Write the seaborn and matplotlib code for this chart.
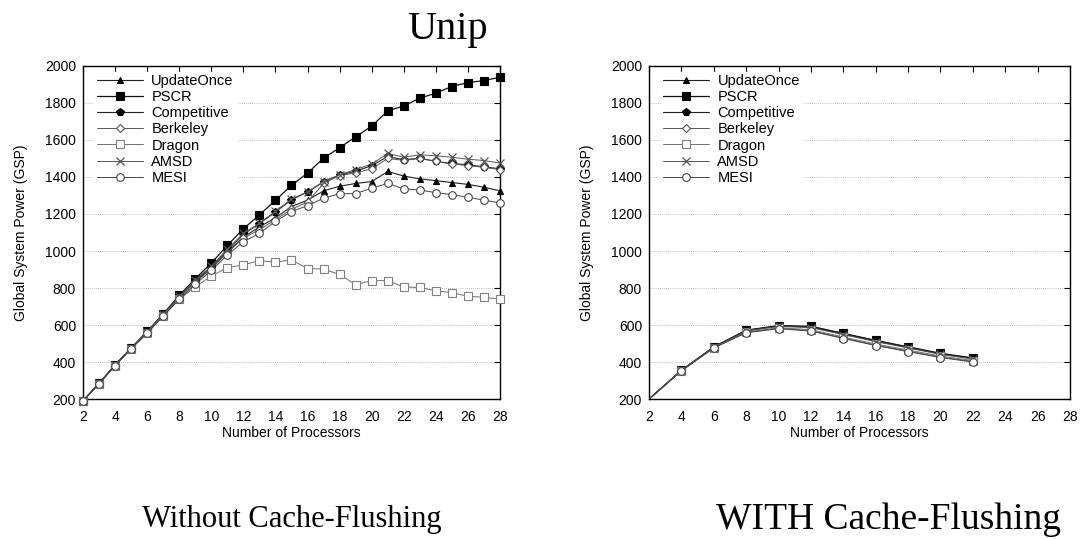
import matplotlib
matplotlib.use("Agg")
import matplotlib.pyplot as plt
import seaborn as sns
import pandas as pd

# ---------------- data ----------------
x_left = list(range(2, 29))
update_once_l = [190, 285, 383, 475, 563, 658, 752, 838, 905, 995, 1075, 1130, 1180, 1240, 1275, 1325, 1350, 1365, 1375, 1430, 1405, 1390, 1380, 1370, 1360, 1345, 1325]
pscr_l = [190, 285, 385, 475, 565, 660, 760, 850, 935, 1030, 1120, 1195, 1274, 1355, 1421, 1502, 1558, 1617, 1675, 1757, 1784, 1826, 1853, 1889, 1910, 1921, 1939]
competitive_l = [190, 285, 383, 475, 563, 658, 755, 840, 915, 1005, 1090, 1148, 1211, 1277, 1319, 1373, 1410, 1432, 1461, 1511, 1493, 1502, 1484, 1473, 1466, 1455, 1444]
berkeley_l = [190, 283, 380, 472, 558, 652, 745, 830, 905, 990, 1070, 1115, 1170, 1225, 1265, 1365, 1408, 1422, 1445, 1500, 1490, 1500, 1485, 1470, 1462, 1452, 1440]
dragon_l = [190, 283, 380, 472, 558, 650, 740, 805, 865, 910, 925, 948, 940, 952, 905, 903, 873, 818, 840, 840, 805, 803, 785, 775, 755, 750, 740]
amsd_l = [190, 285, 383, 475, 563, 658, 755, 842, 918, 1010, 1095, 1150, 1215, 1280, 1320, 1375, 1412, 1440, 1470, 1527, 1507, 1520, 1514, 1507, 1496, 1489, 1475]
mesi_l = [190, 283, 380, 472, 555, 648, 738, 820, 895, 978, 1050, 1095, 1160, 1213, 1245, 1285, 1310, 1310, 1340, 1365, 1335, 1330, 1315, 1305, 1290, 1275, 1260]

x_right = list(range(2, 23, 2))
update_once_r = [200, 355, 480, 570, 595, 590, 553, 515, 480, 445, 420]
pscr_r = [200, 355, 482, 572, 597, 593, 555, 517, 482, 447, 422]
competitive_r = [200, 355, 480, 570, 594, 590, 552, 514, 479, 444, 420]
berkeley_r = [200, 353, 477, 560, 583, 570, 530, 492, 460, 427, 403]
dragon_r = [200, 353, 477, 562, 585, 575, 535, 497, 465, 432, 408]
amsd_r = [200, 355, 480, 568, 592, 586, 548, 510, 476, 441, 416]
mesi_r = [200, 352, 476, 558, 580, 567, 527, 489, 456, 424, 400]

series_names = ["UpdateOnce", "PSCR", "Competitive", "Berkeley", "Dragon", "AMSD", "MESI"]
left_values = [update_once_l, pscr_l, competitive_l, berkeley_l, dragon_l, amsd_l, mesi_l]
right_values = [update_once_r, pscr_r, competitive_r, berkeley_r, dragon_r, amsd_r, mesi_r]

x_ticks = list(range(2, 29, 2))
y_ticks = list(range(200, 2001, 200))

title_text = "Unip"
caption_left = "Without Cache-Flushing"
caption_right = "WITH Cache-Flushing"
xlabel_text = "Number of Processors"
ylabel_text = "Global System Power (GSP)"

# ---------------- style ----------------
sns.set_theme(style="white")
plt.rcParams["font.family"] = ["Liberation Sans", "DejaVu Sans"]
plt.rcParams["text.color"] = "black"
plt.rcParams["axes.labelcolor"] = "black"
plt.rcParams["xtick.color"] = "black"
plt.rcParams["ytick.color"] = "black"

styles = {
    "UpdateOnce":  dict(marker="^", ms=5.0, mfc="black", mec="black", color="#222222", lw=0.8),
    "PSCR":        dict(marker="s", ms=6.0, mfc="black", mec="black", color="#111111", lw=0.9),
    "Competitive": dict(marker="p", ms=5.5, mfc="black", mec="black", color="#222222", lw=0.8),
    "Berkeley":    dict(marker="D", ms=4.0, mfc="white", mec="#555555", color="#555555", lw=0.7),
    "Dragon":      dict(marker="s", ms=5.5, mfc="white", mec="#808080", color="#707070", lw=0.7),
    "AMSD":        dict(marker="x", ms=5.5, mfc="none", mec="#555555", color="#555555", lw=0.7, mew=0.9),
    "MESI":        dict(marker="o", ms=5.5, mfc="white", mec="#444444", color="#444444", lw=0.7),
}

fig = plt.figure(figsize=(10.81, 5.39), dpi=100)
ax_l = fig.add_axes([0.0768, 0.2597, 0.3857, 0.6179])
ax_r = fig.add_axes([0.6004, 0.2597, 0.3894, 0.6179])


def draw(ax, xs, values, clip_first):
    for name, vals in zip(series_names, values):
        df = pd.DataFrame({"x": xs, "y": vals})
        st = dict(styles[name])
        kw = dict(marker=st["marker"], markersize=st["ms"], markerfacecolor=st["mfc"],
                  markeredgecolor=st["mec"], color=st["color"], linewidth=st["lw"],
                  markeredgewidth=st.get("mew", 0.8), label=name)
        if clip_first:
            kw["markevery"] = slice(1, None)
        sns.lineplot(data=df, x="x", y="y", ax=ax, legend=False, clip_on=clip_first, zorder=3, **kw)
    ax.set_xlim(2, 28)
    ax.set_ylim(200, 2000)
    ax.set_xticks(x_ticks)
    ax.set_yticks(y_ticks)
    ax.tick_params(direction="in", length=4, width=0.8, top=True, right=True,
                   labelsize=10, pad=5, colors="black")
    ax.tick_params(axis="x", pad=8)
    ax.yaxis.grid(True, linestyle=(0, (1, 1.5)), color="#aaaaaa", linewidth=0.6)
    ax.xaxis.grid(False)
    for sp in ax.spines.values():
        sp.set_visible(True)
        sp.set_color("black")
        sp.set_linewidth(1.0)
    ax.set_xlabel(xlabel_text, fontsize=10, labelpad=1, color="black")
    ax.set_ylabel(ylabel_text, fontsize=10, labelpad=12, color="black")
    handles, labels = ax.get_legend_handles_labels()
    leg = ax.legend(handles, labels, loc="upper left", bbox_to_anchor=(0.01, 1.005),
                    fontsize=10.5, frameon=True, handlelength=3.2, handletextpad=0.55,
                    labelspacing=0.15, borderpad=0.15, fancybox=False, labelcolor="black")
    leg.get_frame().set_facecolor("white")
    leg.get_frame().set_edgecolor("white")
    leg.get_frame().set_alpha(1.0)
    leg.set_zorder(5)


draw(ax_l, x_left, left_values, clip_first=False)
draw(ax_r, x_right, right_values, clip_first=True)

serif = ["Liberation Serif", "DejaVu Serif"]
fig.text(0.414, 0.945, title_text, ha="center", va="center", fontsize=29, family=serif, color="black")
fig.text(0.270, 0.036, caption_left, ha="center", va="center", fontsize=22, family=serif, color="black")
fig.text(0.822, 0.036, caption_right, ha="center", va="center", fontsize=27, family=serif, color="black")

fig.savefig("out.png", dpi=100, facecolor="white")
